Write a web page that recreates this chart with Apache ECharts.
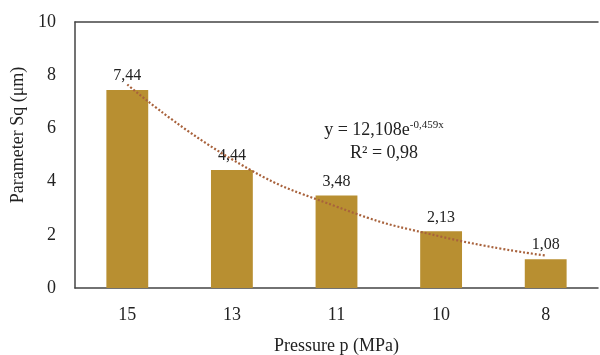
<!DOCTYPE html>
<html>
<head>
<meta charset="utf-8">
<script src="https://cdn.jsdelivr.net/npm/echarts@6/dist/echarts.min.js"></script>
<style>html,body{margin:0;padding:0;background:#fff}#c{width:600px;height:355px}</style>
</head>
<body>
<div id="c"></div>
<script>
var categories = ['15', '13', '11', '10', '8'];
var sqValues = [7.44, 4.44, 3.48, 2.13, 1.08];
var trendValues = [7.65, 4.84, 3.06, 1.93, 1.22];
var yTicks = [0, 2, 4, 6, 8, 10];
var xTitle = 'Pressure p (MPa)';
var yTitle = 'Parameter Sq (μm)';

var serif = '"Liberation Serif", "DejaVu Serif", serif';
var chart = echarts.init(document.getElementById('c'));
chart.setOption({
  animation: false,
  grid: { left: 75, right: 2, top: 22, bottom: 67, show: false, outerBoundsMode: 'none', containLabel: false },
  xAxis: [{
    type: 'category', data: categories,
    axisLine: { show: true, lineStyle: { color: '#444', width: 1.5 } },
    axisTick: { show: false },
    axisLabel: { margin: 18, fontFamily: serif, fontSize: 18, color: '#222' },
    name: xTitle, nameLocation: 'middle', nameGap: 49,
    nameTextStyle: { fontFamily: serif, fontSize: 18, color: '#222' }
  }, {
    type: 'category', data: categories, position: 'top',
    axisLine: { show: true, lineStyle: { color: '#444', width: 1.5 } },
    axisTick: { show: false }, axisLabel: { show: false }
  }],
  yAxis: {
    type: 'value', min: 0, max: 10, interval: 2,
    axisLine: { show: true, lineStyle: { color: '#444', width: 1.5 } },
    axisTick: { show: false }, splitLine: { show: false },
    axisLabel: { margin: 19, fontFamily: serif, fontSize: 18, color: '#222',
      formatter: function (v) { return yTicks.indexOf(v) >= 0 ? String(v) : ''; } }
  },
  graphic: [
    { type: 'text', x: 18, y: 135, rotation: Math.PI / 2,
      style: { text: yTitle, font: '18px ' + serif, fill: '#222', align: 'center', verticalAlign: 'middle' } },
    { type: 'text', x: 384, y: 130,
      style: { text: '{m|y = 12,108e}{s|-0,459x}', align: 'center', verticalAlign: 'middle',
        rich: { m: { font: '18px ' + serif, fill: '#222' },
                s: { font: '11px ' + serif, fill: '#222', verticalAlign: 'top', padding: [0, 0, 10, 0] } } } },
    { type: 'text', x: 384, y: 153,
      style: { text: 'R² = 0,98', font: '18px ' + serif, fill: '#222', align: 'center', verticalAlign: 'middle' } }
  ],
  series: [
    { type: 'bar', data: sqValues, barWidth: '40%',
      itemStyle: { color: '#B88F31' },
      label: { show: true, position: 'top', distance: 6, fontFamily: serif, fontSize: 16, color: '#222',
        formatter: function (p) { return p.value.toFixed(2).replace('.', ','); } } },
    { type: 'line', data: trendValues, smooth: true, symbol: 'none', z: 5,
      lineStyle: { color: '#A8623C', width: 2.2, type: [2, 2] } }
  ]
});
</script>
</body>
</html>
